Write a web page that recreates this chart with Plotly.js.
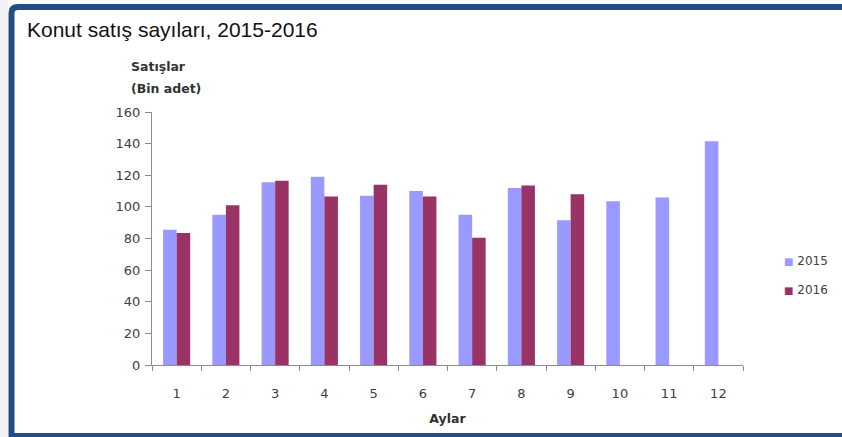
<!DOCTYPE html>
<html>
<head>
<meta charset="utf-8">
<script src="https://cdn.plot.ly/plotly-3.0.1.min.js"></script>
<style>
html,body{margin:0;padding:0;background:#fff;overflow:hidden;}
#chart{width:842px;height:437px;}
</style>
</head>
<body>
<div id="chart"></div>
<script>
const months = ["1","2","3","4","5","6","7","8","9","10","11","12"];
const sales2015 = [85.5, 95, 115.5, 119, 107, 110, 95, 112, 91.5, 103.5, 106, 141.5];
const sales2016 = [83.5, 101, 116.5, 106.5, 114, 106.5, 80.5, 113.5, 108, null, null, null];
const seriesNames = ["2015", "2016"];

const W = 842, H = 437;
const L = 152, R = 743, T = 112, B = 365;
const px = v => (v - L) / (R - L);
const py = v => (B - v) / (B - T);

const c2015 = "#9999FF", c2016 = "#993366";
const tickFont = {family: "'DejaVu Sans', sans-serif", size: 13, color: "#404040"};
const legendFont = {family: "'DejaVu Sans', sans-serif", size: 12, color: "#404040"};
const boldFont = {family: "'DejaVu Sans', sans-serif", size: 12.5, color: "#333333", weight: 700};

const sq = (c) => '<span style="color:' + c + ';font-size:10px">■</span> ';

const traces = [
  {type: "bar", x: months, y: sales2015, name: seriesNames[0], marker: {color: c2015}, showlegend: false, hoverinfo: "x+y"},
  {type: "bar", x: months, y: sales2016, name: seriesNames[1], marker: {color: c2016}, showlegend: false, hoverinfo: "x+y"},
  {type: "scatter", mode: "markers", x: [null], y: [null], name: sq(c2015) + seriesNames[0], legendgroup: "a",
   marker: {symbol: "square", size: 0, color: "rgba(0,0,0,0)", line: {width: 0}}},
  {type: "scatter", mode: "markers", x: [null], y: [null], name: sq(c2016) + seriesNames[1], legendgroup: "b",
   marker: {symbol: "square", size: 0, color: "rgba(0,0,0,0)", line: {width: 0}}}
];

const layout = {
  width: W, height: H,
  margin: {l: L, r: W - R, t: T, b: H - B, pad: 0, autoexpand: false},
  paper_bgcolor: "#ffffff",
  plot_bgcolor: "#ffffff",
  title: {
    text: "Konut satış sayıları, 2015-2016",
    font: {family: "'Liberation Sans', Arial, sans-serif", size: 21, color: "#111111"},
    x: 27 / W, xref: "container", xanchor: "left",
    y: 1 - 30 / H, yref: "container", yanchor: "middle"
  },
  barmode: "group",
  bargap: 0.45,
  bargroupgap: 0,
  xaxis: {
    type: "category",
    range: [-0.5, 11.5],
    showgrid: false, zeroline: false,
    showline: true, linecolor: "#8c8c8c", linewidth: 1,
    ticks: "outside", ticklen: 5, tickcolor: "#8c8c8c", tickson: "boundaries",
    tickfont: tickFont,
    ticklabelstandoff: 16,
    title: {text: "Aylar", font: boldFont, standoff: 14}
  },
  yaxis: {
    range: [0, 160], dtick: 20,
    showgrid: false, zeroline: false,
    showline: true, linecolor: "#8c8c8c", linewidth: 1,
    ticks: "outside", ticklen: 6, tickcolor: "#8c8c8c",
    tickfont: tickFont,
    ticklabelstandoff: 2
  },
  legend: {
    x: px(744), y: py(246), xanchor: "left", yanchor: "top",
    font: legendFont,
    traceorder: "grouped", tracegroupgap: 10,
    itemwidth: 30,
    bgcolor: "rgba(0,0,0,0)"
  },
  annotations: [
    {text: "Satışlar", xref: "paper", yref: "paper", x: px(129), y: py(67), xanchor: "left", yanchor: "middle", showarrow: false, font: boldFont},
    {text: "(Bin adet)", xref: "paper", yref: "paper", x: px(129), y: py(88), xanchor: "left", yanchor: "middle", showarrow: false, font: boldFont}
  ],
  shapes: [
    {type: "rect", xref: "paper", yref: "paper", x0: px(0), x1: px(8), y0: py(0), y1: py(437), line: {width: 0}, fillcolor: "#f2f2f5", layer: "below"},
    {type: "path", xref: "paper", yref: "paper",
     path: "M " + px(950) + " " + py(7) + " L " + px(18) + " " + py(7) + " Q " + px(11.5) + " " + py(7) + " " + px(11.5) + " " + py(13) + " L " + px(11.5) + " " + py(436) + " L " + px(950) + " " + py(436),
     line: {color: "#234e85", width: 6}}
  ]
};

Plotly.newPlot("chart", traces, layout, {displayModeBar: false, staticPlot: true});
</script>
</body>
</html>
